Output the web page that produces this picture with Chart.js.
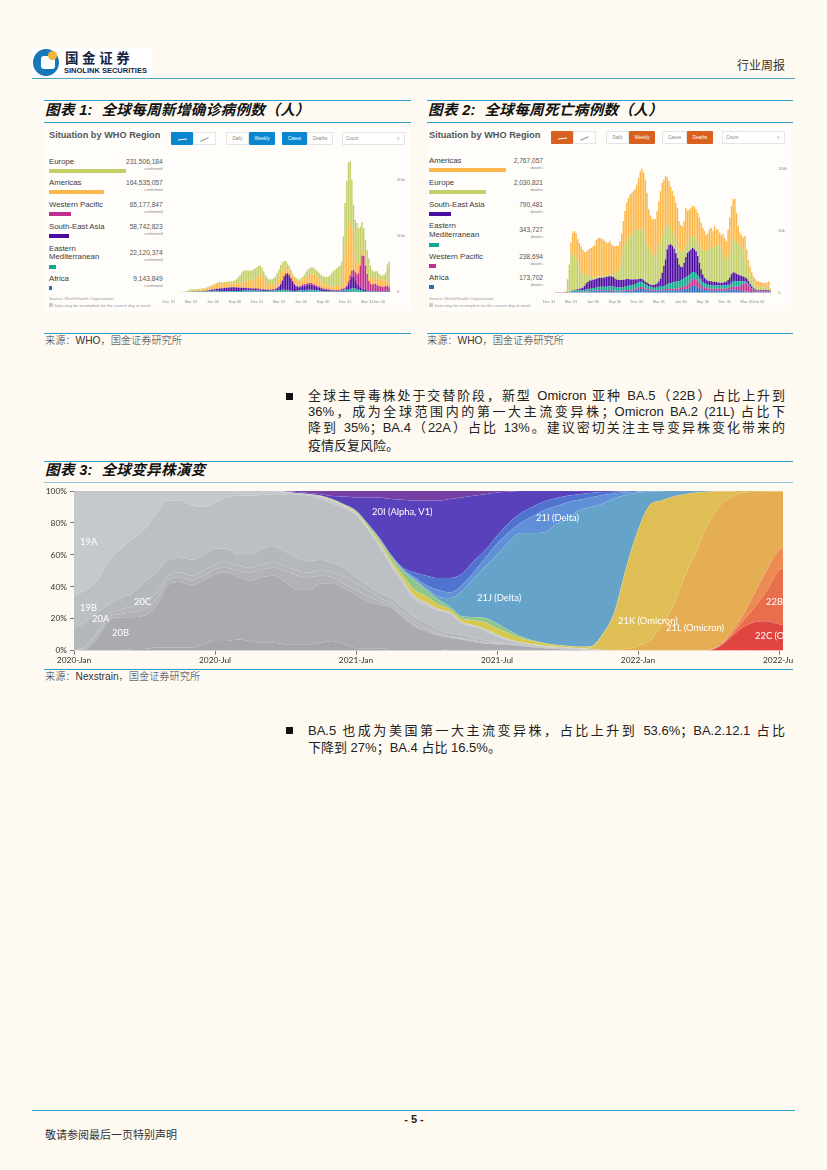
<!DOCTYPE html>
<html lang="zh"><head><meta charset="utf-8">
<style>
html,body{margin:0;padding:0;background:#fffaf1;}
#page{position:relative;width:827px;height:1170px;overflow:hidden;background:#fffaf1;font-family:"Liberation Sans","Noto Sans CJK SC",sans-serif;color:#222;}
.t{position:absolute;white-space:nowrap;line-height:1;}
.r{position:absolute;}
canvas{position:absolute;}
.title{font-family:"Liberation Sans","Noto Sans CJK SC",sans-serif;font-weight:700;font-style:italic;font-size:14.6px;color:#111;letter-spacing:.3px;}
.src{font-size:10.2px;color:#333;font-family:"Liberation Sans","Noto Sans CJK SC",sans-serif;font-weight:300;}
.para{position:absolute;left:308px;width:477px;font-size:13px;line-height:17px;color:#222;text-align:justify;text-align-last:justify;white-space:normal;}
.para.last{text-align-last:left;}
</style></head><body><div id="page"></div>
<script src="https://cdn.jsdelivr.net/npm/chart.js@4"></script>
<script>
/* ---------- Figure 1: weekly confirmed cases by WHO region, in units of 10,000 cases ---------- */
const casesAfrica=[0,0,0,0,0,0,0,0,0,0,0,0,0,0,1,1,1,1,1,2,2,3,3,4,5,7,8,9,10,10,9,7,6,5,4,3,3,3,2,2,2,2,2,2,3,3,3,4,5,6,8,10,11,12,11,9,7,6,5,5,4,4,4,4,4,4,4,4,4,4,4,3,3,4,5,6,9,11,14,16,15,13,12,11,10,9,8,6,5,4,3,3,2,2,2,2,2,2,2,2,3,5,14,25,28,22,14,10,8,6,4,3,2,2,2,2,2,2,1,1,1,1,1,1,2,3,4,5,5,4,3];
const casesEMed=[0,0,0,0,0,0,0,1,1,1,2,3,3,4,5,5,5,5,5,6,7,8,9,10,12,13,13,12,11,11,10,10,10,10,10,11,12,12,13,14,15,16,18,20,21,22,22,21,20,19,18,17,15,14,13,13,13,14,15,16,18,20,22,24,26,28,31,34,35,33,28,22,18,15,14,14,15,16,17,18,20,24,28,30,31,30,27,24,21,18,15,13,11,9,8,7,6,6,6,6,7,8,10,13,15,16,25,40,55,60,58,50,38,30,24,18,15,12,10,8,7,6,5,4,4,3,3,3,3,3,3];
const casesSEAsia=[0,0,0,0,0,0,0,0,0,0,0,0,1,1,2,3,3,4,5,6,7,8,10,12,15,18,22,27,32,38,42,45,50,55,58,62,64,66,68,66,62,58,54,50,48,45,42,40,36,32,30,28,26,24,22,20,18,17,16,16,16,17,18,22,35,60,100,160,230,280,290,270,220,160,110,80,65,55,60,70,75,80,85,85,85,75,70,60,55,50,40,35,30,28,25,22,20,18,18,16,14,14,14,14,20,50,100,170,210,200,150,100,70,50,35,25,18,12,10,8,7,6,6,7,7,8,8,10,14,16,18];
const casesWPacific=[0,0,0,0,0,0,1,1,1,1,1,1,1,1,1,1,1,1,1,1,1,1,1,1,1,1,2,2,3,3,3,4,4,4,5,5,5,5,5,5,5,5,5,4,5,6,7,8,9,10,11,12,13,13,12,10,9,8,8,8,8,8,9,10,11,12,13,14,15,15,16,16,16,16,16,15,15,16,20,24,28,30,32,34,34,30,28,24,22,20,18,16,14,14,14,14,13,12,11,11,12,12,14,14,14,20,50,80,105,125,140,165,226,390,590,600,435,295,180,135,110,130,135,110,95,90,80,75,85,90,60];
const casesAmericas=[0,0,0,0,0,0,0,0,0,0,0,1,6,8,12,16,22,24,30,32,38,38,46,53,59,65,71,83,88,93,96,92,86,85,80,78,72,72,70,70,72,75,80,90,100,108,118,125,135,150,160,175,190,215,235,225,190,140,115,90,85,85,90,98,110,125,140,150,145,135,110,105,100,100,105,110,105,95,90,90,105,125,140,155,165,175,170,160,145,130,110,95,80,68,60,58,58,62,65,68,70,75,110,320,560,780,950,950,750,480,300,200,140,100,85,75,70,70,75,85,90,100,115,125,130,120,115,110,100,100,100];
const casesEurope=[0,0,0,0,0,0,0,1,1,1,2,12,25,34,27,22,22,19,18,13,11,8,9,10,10,10,10,11,12,13,14,16,18,21,23,27,30,34,40,53,72,108,141,176,195,200,198,186,173,173,175,178,189,190,175,155,135,115,105,93,91,94,109,124,150,179,192,166,123,85,62,52,45,35,32,33,25,29,39,52,69,88,99,111,113,119,117,116,112,114,114,120,133,143,167,191,237,272,294,317,344,354,378,604,953,1092,1171,1090,882,689,638,712,664,598,512,420,390,359,324,231,175,117,110,125,93,77,79,110,141,278,355];

/* ---------- Figure 2: weekly deaths by WHO region, in units of 100 deaths ---------- */
const deathsAfrica=[0,0,0,0,0,0,0,0,0,0,0,0,0,0,3,3,3,3,3,5,5,5,8,8,11,11,14,14,16,16,16,16,16,16,16,16,16,14,14,11,11,11,11,11,11,14,14,14,16,16,19,22,24,27,30,30,27,24,22,19,16,14,14,14,14,16,16,19,19,19,19,19,19,19,19,19,19,19,22,24,27,30,35,41,46,54,57,54,49,41,35,27,22,22,19,19,19,16,16,16,16,16,16,16,16,19,22,24,27,27,24,22,19,16,14,11,8,8,8,5,5,5,3,3,3,3,3,3,3,3,3,3];
const deathsWPacific=[0,0,0,0,3,3,3,3,3,3,5,3,3,3,3,3,3,3,3,3,3,3,3,3,3,3,3,3,3,5,5,5,5,5,5,5,5,5,5,5,5,5,5,5,5,5,8,8,8,8,8,11,11,14,16,16,14,11,11,8,8,8,5,5,5,5,5,8,8,11,11,14,14,14,16,16,16,16,19,22,24,27,30,35,43,54,54,51,41,35,30,24,22,19,16,14,14,16,16,16,16,16,16,16,16,16,16,16,19,22,24,27,32,41,49,59,68,65,51,38,27,16,11,8,8,8,8,8,8,8,8,5];
const deathsEMed=[0,0,0,0,0,0,0,0,0,0,1,3,5,8,8,11,11,14,14,14,14,14,16,16,19,19,22,22,24,24,27,27,27,27,27,30,32,32,32,30,27,27,27,27,30,30,32,35,35,38,38,38,41,43,43,41,38,32,30,27,24,22,22,22,24,27,27,27,27,32,38,43,46,49,51,54,57,59,62,65,70,70,68,65,65,59,57,54,54,51,41,35,32,30,30,30,27,27,27,27,27,27,27,27,27,24,24,27,35,46,46,46,41,35,30,22,14,11,8,8,5,5,5,5,5,3,3,3,3,3,3,3];
const deathsSEAsia=[0,0,0,0,0,0,0,0,0,0,0,0,0,3,3,5,8,8,11,14,19,32,49,59,65,65,65,68,70,73,73,73,73,76,81,81,81,81,76,70,65,59,59,59,59,59,57,54,49,46,43,38,32,27,24,24,22,22,19,19,16,19,22,27,32,43,65,108,162,208,284,311,313,297,270,230,189,135,108,95,122,162,189,194,197,197,184,178,154,116,84,62,46,35,32,32,32,30,27,27,24,22,22,22,27,32,41,54,68,68,68,59,54,49,43,38,35,32,27,19,16,11,8,5,5,5,5,5,5,5,5,3];
const deathsEurope=[0,0,0,0,0,0,0,0,0,0,6,81,189,319,284,281,246,216,181,149,122,97,70,49,32,30,22,19,14,11,11,14,14,14,11,11,14,19,24,35,59,92,127,181,246,284,308,335,356,365,373,383,400,402,405,402,386,356,324,292,273,240,221,224,254,286,305,311,302,278,208,167,135,108,89,86,97,122,127,132,113,103,84,97,95,95,103,95,108,135,167,203,224,232,248,262,273,275,292,300,310,302,284,257,197,178,194,216,243,257,270,265,246,232,221,221,213,154,100,78,54,43,38,32,27,27,24,24,24,27,30,11];
const deathsAmericas=[0,0,0,0,0,0,0,0,0,0,3,22,32,73,181,197,211,189,189,189,184,178,184,211,227,235,248,259,300,313,313,302,297,281,265,262,270,240,227,227,211,186,189,197,230,270,311,324,332,338,343,351,370,419,467,491,486,473,405,311,289,297,311,308,332,365,405,419,400,397,373,351,332,338,338,324,311,230,211,197,224,297,257,243,243,243,243,243,243,230,211,176,154,127,135,157,162,135,162,127,119,103,100,135,162,149,216,270,311,338,329,230,149,113,108,95,122,81,70,62,59,54,49,43,43,41,38,38,38,35,43,12];

/* axis labels of figures 1 and 2: week index -> label */
const whoTickWeeks=[0,13,26,39,52,65,78,91,104,117,124];
const whoTickLabels=['Dec 31','Mar 31','Jun 30','Sep 30','Dec 31','Mar 31','Jun 30','Sep 30','Dec 31','Mar 31','Jun 30'];
const caseAxisTicks=[0,1000,2000];
const deathAxisTicks=[0,500,1000];

/* legend panels */
const caseRegions=['Europe','Americas','Western Pacific','South-East Asia','Eastern\nMediterranean','Africa'];
const caseTotals=[231506184,164535057,65177847,58742823,22120374,9143849];
const deathRegions=['Americas','Europe','South-East Asia','Eastern\nMediterranean','Western Pacific','Africa'];
const deathTotals=[2767057,2030821,790481,343727,238694,173702];

/* ---------- Figure 3: clade share of sequences, %, every half month from 2020-Jan ---------- */
const halfMonths=[0,1,2,3,4,5,6,7,8,9,10,11,12,13,14,15,16,17,18,19,20,21,22,23,24,25,26,27,28,29,30,31,32,33,34,35,36,37,38,39,40,41,42,43,44,45,46,47,48,49,50,51,52,53,54,55,56,57,58,59,60,60.4];
const clade20D=[0,0,0,0,0,1,1,2,2,2,2,4,6,6,7,6,5,5,4,4,4,5,6,4,1.5,1.5,1.5,1,1,1,1,1,.5,.5,.5,.5,.3,.3,.2,.2,.1,.1,0,0,0,0,0,0,0,0,0,0,0,0,0,0,0,0,0,0,0,0];
const clade20B=[0,1,8,19,21,20,21,26,39,41,39,40,42,43,39,38,41,42,39,34,34,37,36,35,33.5,29.5,27.5,26,20,14,11,8.5,7.5,6.5,5,4,3.7,3.2,2.8,2,1.4,1,.8,.5,.3,.1,.1,.1,0,0,0,0,0,0,0,0,0,0,0,0,0,0];
const clade20E=[0,1,2,2,2,3,4,4,3,3,3,3,3,3,4,5,5,5,7,9,8,5,4,3,3,3,2,1,1,1,1,.5,.5,.5,.5,.5,.5,.5,.4,.3,.3,.3,.3,.2,.2,.1,0,0,0,0,0,0,0,0,0,0,0,0,0,0,0,0];
const clade20G=[0,1,2,2,3,4,6,4,3,3,3,3,3,3,3,3,3,3,3,3,3,3,3,4,4,4,2,2,2,2,1,1,.5,.5,.5,.5,.5,.3,.3,.3,.3,.3,.2,.2,.1,.1,0,0,0,0,0,0,0,0,0,0,0,0,0,0,0,0];
const clade20C=[14,15,12,6,7,8,11,13,10,9,10,10,10,9,7,8,10,10,9,8,7,7,6,6,4,3,3,3,3,3,3,2,2,2,1.5,1,.5,.3,.3,.2,.2,.2,.2,.2,.1,.1,0,0,0,0,0,0,0,0,0,0,0,0,0,0,0,0];
const clade20A=[20,20,20,27,31,34,33,37,37,36,34,30,29,32,37,37,33.5,33,36,40,41,38,37,37,39,35,29,20,15,11,11,12,12,7,7,6,3.5,1.9,.9,.7,.5,.4,.3,.3,.2,.1,.1,0,0,0,0,0,0,0,0,0,0,0,0,0,0,0];
const clade19A=[66,62,56,44,36,30,24,14,6,6,9,10,7,4,3,3,2.5,2,1.5,.5,1,1.5,2,1.5,1,1,2,2,2,2,2,1,1,1,1,1,1,.5,.3,.3,.2,.2,.2,.1,.1,0,0,0,0,0,0,0,0,0,0,0,0,0,0,0,0,0];
const clade22C=[0,0,0,0,0,0,0,0,0,0,0,0,0,0,0,0,0,0,0,0,0,0,0,0,0,0,0,0,0,0,0,0,0,0,0,0,0,0,0,0,0,0,0,0,0,0,0,0,0,0,0,0,0,0,.2,3,9,15,18,18.5,16.5,16];
const clade22B=[0,0,0,0,0,0,0,0,0,0,0,0,0,0,0,0,0,0,0,0,0,0,0,0,0,0,0,0,0,0,0,0,0,0,0,0,0,0,0,0,0,0,0,0,0,0,0,0,0,0,0,0,0,0,.1,.5,1.5,4,10,19.5,34,36];
const clade22A=[0,0,0,0,0,0,0,0,0,0,0,0,0,0,0,0,0,0,0,0,0,0,0,0,0,0,0,0,0,0,0,0,0,0,0,0,0,0,0,0,0,0,0,0,0,0,0,0,0,0,0,0,0,0,.2,.5,1.5,4,9,13,12.5,12.5];
const clade21L=[0,0,0,0,0,0,0,0,0,0,0,0,0,0,0,0,0,0,0,0,0,0,0,0,0,0,0,0,0,0,0,0,0,0,0,0,0,0,0,0,0,0,0,0,0,0,.3,.9,3,6.5,16,28.5,47,63,79.5,87,84.5,76,62.3,48.5,36.5,35];
const clade21K=[0,0,0,0,0,0,0,0,0,0,0,0,0,0,0,0,0,0,0,0,0,0,0,0,0,0,0,0,0,0,0,0,0,0,0,0,0,0,0,0,0,0,0,0,1,9.5,23.5,51,72.5,84.5,78,68,51,36,19.5,8.8,3.4,1,.7,.5,.5,.5];
const clade20J=[0,0,0,0,0,0,0,0,0,0,0,0,0,0,0,0,0,0,0,0,0,.3,.5,.6,.7,1,1.5,2,3,4,4,3,2,2,3,4,4,4,2.8,2,1.5,1.1,1,.9,.8,.5,.3,.1,0,0,0,0,0,0,0,0,0,0,0,0,0,0];
const clade21A=[0,0,0,0,0,0,0,0,0,0,0,0,0,0,0,0,0,0,0,0,0,.2,.3,.5,.8,1.2,1.5,2,3,6,4,3,1.5,1.5,2,3,3,2,1,.5,.3,.1,0,0,0,0,0,0,0,0,0,0,0,0,0,0,0,0,0,0,0,0];
const clade21J=[0,0,0,0,0,0,0,0,0,0,0,0,0,0,0,0,0,0,0,0,0,0,0,0,.1,.1,.1,.2,.4,.8,1,2,5.5,15.5,24,32.1,43,55,64.7,67.2,69.2,75.3,80,85.6,87.2,81.5,71.1,45.4,23.5,8.6,5.8,3.5,2,1,.5,.2,.1,0,0,0,0,0];
const clade21I=[0,0,0,0,0,0,0,0,0,0,0,0,0,0,0,0,0,0,0,0,0,0,0,0,.1,.1,.2,.3,.6,1.2,2,4,3.5,4,4,5.4,7,6,6.3,10.3,14,11.5,10,6.5,6,5.5,3.1,1.5,.7,.4,.2,0,0,0,0,0,0,0,0,0,0,0];
const clade21B=[0,0,0,0,0,0,0,0,0,0,0,0,0,0,0,0,0,0,0,0,0,0,0,0,.1,.2,.3,.5,1,3,6,7.5,9,7,7,5,5,6,6,6,5.5,5,4,3.5,2.8,1.8,1.1,.8,.3,0,0,0,0,0,0,0,0,0,0,0,0,0];
const clade20I=[0,0,0,0,0,0,0,0,0,0,0,0,0,0,0,0,0,0,.5,.8,.8,1,2,4.9,8.2,16.4,25.4,35,42.5,45,47,48.5,49.5,48,41,35,27,19.5,14,10,6.5,4.5,3,2,1.2,.7,.4,.2,0,0,0,0,0,0,0,0,0,0,0,0,0,0];
const clade20H=[0,0,0,0,0,0,0,0,0,0,0,0,0,0,0,0,0,0,0,.7,1.2,2,3.2,3.5,4,4,4,5,5.5,6,6,6,5,4,3,2,1,.5,0,0,0,0,0,0,0,0,0,0,0,0,0,0,0,0,0,0,0,0,0,0,0,0];
const variantTickAt=[0,12,24,36,48,60];
const variantTickLabels=['2020-Jan','2020-Jul','2021-Jan','2021-Jul','2022-Jan','2022-Jul'];
const cladeLabels=[['19A',80,542],['19B',80,608],['20A',92,619],['20B',112,633],['20C',134,602],['20I (Alpha, V1)',372,512],['21I (Delta)',536,518],['21J (Delta)',477,598],['21K (Omicron)',618,621],['21L (Omicron)',666,628],['22B',766,602],['22C (Omicron)',755,636]];

/* ---------- page furniture ---------- */
const page=document.getElementById('page');
function txt(x,y,s,o={}){const e=document.createElement('div');e.className='t '+(o.cls||'');e.textContent=s;
 const tx=o.align==='right'?'-100%':o.align==='center'?'-50%':'0';e.style.left=x+'px';e.style.top=y+'px';e.style.transform=`translate(${tx},-50%)`;
 if(o.size)e.style.fontSize=o.size+'px';if(o.color)e.style.color=o.color;if(o.weight)e.style.fontWeight=o.weight;if(o.font)e.style.fontFamily=o.font;if(o.ls)e.style.letterSpacing=o.ls+'px';
 (o.parent||page).appendChild(e);return e;}
function box(x,y,w,h,c,extra){const e=document.createElement('div');e.className='r';e.style.cssText=`left:${x}px;top:${y}px;width:${w}px;height:${h}px;background:${c};`+(extra||'');page.appendChild(e);return e;}
function cv(x,y,w,h){const c=document.createElement('canvas');c.width=w;c.height=h;c.style.left=x+'px';c.style.top=y+'px';c.style.width=w+'px';c.style.height=h+'px';page.appendChild(c);return c;}
const BL='#2f9fcf';

/* header */
box(32,48,120,29,'#fff');
box(33,49,26,27,'#1877b9','border-radius:50%;');
box(41,56,14,13,'#fff','border-radius:3px;');
box(48,51,9,9,'#f3b33d','border-radius:50%;');
txt(65,59,'国金证券',{size:13.5,weight:700,color:'#17233f',ls:3.6});
txt(64,71,'SINOLINK SECURITIES',{size:7.5,weight:700,color:'#17233f'});
box(32,78,763,1.2,'#55a6c4');
txt(785,66,'行业周报',{size:12,align:'right',color:'#333'});
/* figure frames */
[[44,367,'图表 1:  全球每周新增确诊病例数（人）'],[427,366,'图表 2:  全球每周死亡病例数（人）']].forEach(([x,w,s])=>{
 box(x,100,w,1.4,BL);box(x,122,w,1,BL);box(x,333,w,1.2,BL);
 const e=txt(x+1,110,s,{cls:'title'});e.style.whiteSpace='pre';
});
box(45,125,365,186,'#fffdf9');box(428,125,363,186,'#fffdf9');
txt(45,341,'来源：WHO，国金证券研究所',{cls:'src'});
txt(427,341,'来源：WHO，国金证券研究所',{cls:'src'});
box(44,461,749,1.4,BL);box(44,482,749,1,'#8fc6dc');box(44,669,749,1.4,BL);
txt(45,470,'图表 3:  全球变异株演变',{cls:'title'}).style.whiteSpace='pre';
txt(45,677,'来源：Nexstrain，国金证券研究所',{cls:'src'});
/* paragraphs */
function para(lines,tops){lines.forEach((s,i)=>{const e=document.createElement('div');e.className='para'+(i===lines.length-1?' last':'');e.textContent=s;e.style.top=tops[i]+'px';page.appendChild(e);});}
box(286,393,7,7,'#111');
para(['全球主导毒株处于交替阶段，新型 Omicron 亚种 BA.5（22B）占比上升到','36%，成为全球范围内的第一大主流变异株；Omicron BA.2 (21L) 占比下','降到 35%；BA.4（22A）占比 13%。建议密切关注主导变异株变化带来的','疫情反复风险。'],[387,403,419,437]);
box(286,727,7,7,'#111');
para(['BA.5 也成为美国第一大主流变异株，占比上升到 53.6%；BA.2.12.1 占比','下降到 27%；BA.4 占比 16.5%。'],[722,739]);
/* footer */
box(32,1110,763,1.2,BL);
txt(414,1119,'- 5 -',{size:11,weight:700,align:'center',color:'#222'});
txt(45,1135,'敬请参阅最后一页特别声明',{size:11,color:'#333'});

/* WHO legend panels */
const GREEN='#c3cf69',ORANGE='#fcb84a',MAG='#c12f8e',PUR='#4c0ca0',TEAL='#12a88f',BLUE='#2b6db9';
function panel(ox,accent,regions,totals,colors,word,active){
 const g='#555';
 txt(ox+7,136,'Situation by WHO Region',{size:9.2,weight:700,color:g});
 const btn=(x,w,on,s)=>{box(ox+x,active.y,w,13,on?accent:'#fff',on?'border-radius:1px;':'border:.5px solid #e5e5e5;box-sizing:border-box;');
  if(s)txt(ox+x+w/2,active.y+6.5,s,{size:4.6,align:'center',color:on?'#fff':'#888'});};
 btn(active.b0,22,true,'');btn(active.b0+22,23,false,'');
 box(ox+active.b0+7,active.y+6.5,9,.6,'#fff','transform:rotate(-6deg);');
 box(ox+active.b0+29,active.y+6.5,9,.6,'#888','transform:rotate(-24deg);');
 btn(active.b0+55,23,false,'Daily');btn(active.b0+78,26,true,'Weekly');
 btn(active.b0+111,25,active.cases,'Cases');btn(active.b0+136,26,!active.cases,'Deaths');
 btn(active.b0+171,63,false,'');
 txt(ox+active.b0+175,active.y+6.5,'Count',{size:4.6,color:'#888'});
 txt(ox+active.b0+226,active.y+6,'v',{size:5,color:'#aaa'});
 let ys=active.rows;
 regions.forEach((r,i)=>{const parts=r.split('\n');const y=ys[i];
  parts.forEach((p,k)=>txt(ox+7,y+k*8.6,p,{size:7.8,color:'#3a3a3a'}));
  const y2=y+(parts.length-1)*8.6;
  const w=totals[i]/totals[0]*77;
  box(ox+7,y2+ (parts.length>1?10:9.3)-2,Math.max(w,2.5),4,colors[i]);
  const vy=y+(parts.length>1?4:0);
  txt(ox+active.right,vy,totals[i].toLocaleString('en-US'),{size:6.6,align:'right',color:'#555'});
  txt(ox+active.right,vy+7,word,{size:4.2,align:'right',color:'#888'});
 });
 txt(ox+7,299,'Source: World Health Organization',{size:4.2,color:'#999'});
 box(ox+7,303,4,4,'#ccc');
 txt(ox+12.5,305.5,'Data may be incomplete for the current day or week',{size:4.2,color:'#999'});
}
panel(42,'#0a86cf',caseRegions,caseTotals,[GREEN,ORANGE,MAG,PUR,TEAL,BLUE],'confirmed',{y:132,b0:129,cases:true,right:120.7,rows:[161.7,183,205,226.7,248.7,279]});
panel(422,'#d9611f',deathRegions,deathTotals,[ORANGE,GREEN,PUR,TEAL,MAG,BLUE],'deaths',{y:131,b0:129,cases:false,right:121,rows:[160.5,182.5,204.5,226,257,278]});

/* ---------- charts ---------- */
Chart.defaults.animation=false;
Chart.defaults.responsive=false;
Chart.defaults.maintainAspectRatio=false;
Chart.defaults.plugins.legend.display=false;
Chart.defaults.plugins.tooltip.enabled=false;
Chart.defaults.events=[];

function whoChart(el,series,colors,yMax,yTicks,fmt,pad,yW,xH){
 const weeks=series[0].map((_,i)=>i);
 return new Chart(el,{type:'bar',data:{labels:weeks,datasets:series.map((d,i)=>({data:d,backgroundColor:colors[i],barPercentage:.86,categoryPercentage:1,borderWidth:0}))},
 options:{layout:{padding:pad},scales:{
  x:{stacked:true,grid:{display:false,drawTicks:false},border:{display:false},afterBuildTicks:s=>{s.ticks=whoTickWeeks.map(v=>({value:v}));},
     afterFit:s=>{s.height=xH;s.paddingLeft=0;s.paddingRight=0;},
     ticks:{autoSkip:false,maxRotation:0,padding:7,font:{size:4,family:'Liberation Sans'},color:'#8a8a8a',callback:(v)=>whoTickLabels[whoTickWeeks.indexOf(v)]}},
  y:{stacked:true,position:'right',min:0,max:yMax,grid:{display:false,drawTicks:false},border:{display:false},afterBuildTicks:s=>{s.ticks=yTicks.map(v=>({value:v}));},afterFit:s=>{s.width=yW;s.paddingTop=0;s.paddingBottom=0;},
     ticks:{autoSkip:false,padding:7,font:{size:4.2,family:'Liberation Sans'},color:'#8a8a8a',callback:fmt}}
 }}});
}
whoChart(cv(160,150,250,165),[casesAfrica,casesEMed,casesSEAsia,casesWPacific,casesAmericas,casesEurope],[BLUE,TEAL,PUR,MAG,ORANGE,GREEN],2400,caseAxisTicks,v=>v===0?'0':(v/100)+'m',{left:8,top:7.6,right:0,bottom:0},20,23);
whoChart(cv(540,150,252,165),[deathsAfrica,deathsWPacific,deathsEMed,deathsSEAsia,deathsEurope,deathsAmericas],[BLUE,MAG,TEAL,PUR,GREEN,ORANGE],1100,deathAxisTicks,v=>v===0?'0':(v/10)+'k',{left:8.2,top:7,right:0,bottom:0},20.8,22.3);

const stream=[clade20D,clade20B,clade20E,clade20G,clade20C,clade20A,clade19A,clade22C,clade22B,clade22A,clade21L,clade21K,clade20J,clade21A,clade21J,clade21I,clade21B,clade20I,clade20H];
const streamColors=['#a4a6ab','#a9abb0','#b1b3b8','#b4b6bb','#b4b7bb','#bcbfc3','#c6c9cc','#e04540','#e96e4b','#ec8b52','#e5ae52','#dfbf55','#d6c850','#8dc78d','#66a3c8','#5f90d8','#4f73cf','#5a41bc','#763fa2'];
new Chart(cv(40,488,753,184),{type:'line',data:{datasets:stream.map((d,i)=>({data:d.map((v,k)=>({x:halfMonths[k],y:v})),backgroundColor:streamColors[i],borderColor:i<7?'rgba(255,255,255,.07)':'rgba(255,255,255,.14)',borderWidth:.5,pointRadius:0,fill:i===0?'origin':'-1',cubicInterpolationMode:'monotone'}))},
 options:{layout:{padding:{left:0,right:10,top:3,bottom:0}},scales:{
  x:{type:'linear',min:0,max:60.34,grid:{drawOnChartArea:false,drawTicks:true,tickLength:4,color:'#777'},border:{display:false},
     afterBuildTicks:s=>{s.ticks=variantTickAt.map(v=>({value:v}));},
     afterFit:s=>{s.height=21.3;s.paddingLeft=0;s.paddingRight=0;},
     ticks:{autoSkip:false,maxRotation:0,padding:1,font:{size:8.4,family:'Lato'},color:'#333',callback:v=>variantTickLabels[variantTickAt.indexOf(v)]}},
  y:{stacked:true,min:0,max:100,grid:{drawOnChartArea:false,drawTicks:true,tickLength:4,color:'#777'},border:{display:false},
     afterFit:s=>{s.width=34;s.paddingTop=0;s.paddingBottom=0;},
     ticks:{stepSize:20,padding:3,font:{size:8.4,family:'Lato'},color:'#333',callback:v=>v+'%'}}
 }}});
/* clade names, clipped at the plot's right edge */
const clip=document.createElement('div');clip.className='r';clip.style.cssText='left:0;top:0;width:783px;height:660px;overflow:hidden;';page.appendChild(clip);
cladeLabels.forEach(([s,x,y])=>txt(x,y,s,{size:9.4,color:'#fff',font:'Lato',parent:clip}));
</script></body></html>
